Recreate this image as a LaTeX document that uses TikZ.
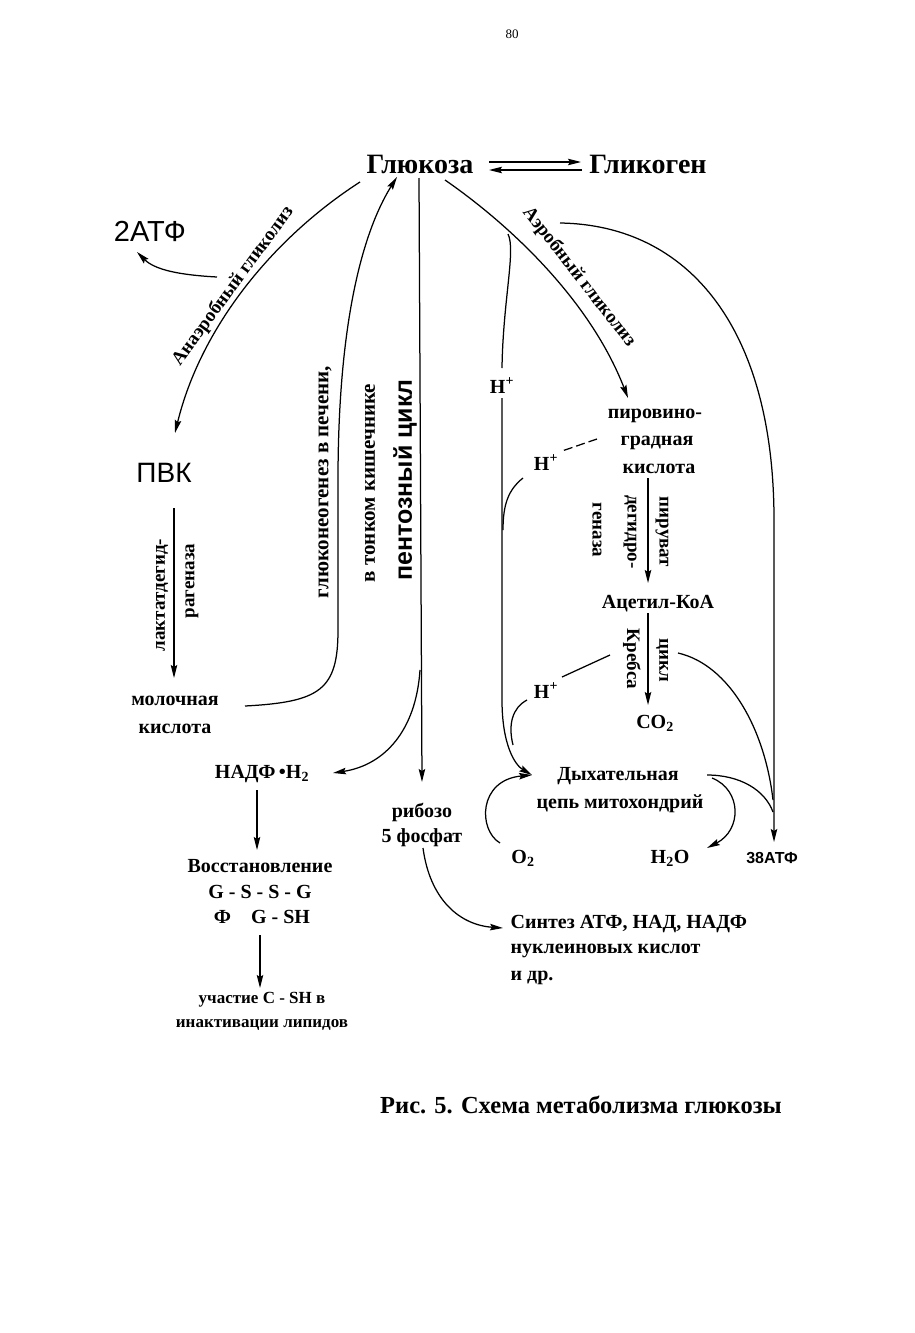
\documentclass[tikz,border=0pt]{standalone}
\usepackage{fontspec}
\setmainfont{Liberation Serif}
\setsansfont{Liberation Sans}
\usetikzlibrary{arrows.meta}
\begin{document}
\begin{tikzpicture}[x=1pt,y=-1pt,line width=1.25pt,
  every node/.style={inner sep=0pt},
  arr/.style={-{Stealth[length=13pt,width=6.5pt,inset=2pt]}},
  big/.style={font=\fontsize{28}{30}\selectfont\bfseries, anchor=base},
  lab/.style={font=\fontsize{20}{22}\selectfont\bfseries, anchor=base},
  sml/.style={font=\fontsize{17}{19}\selectfont\bfseries, anchor=base},
  rot/.style={font=\fontsize{19}{21}\selectfont\bfseries},
  rotb/.style={font=\fontsize{21}{23}\selectfont\bfseries},
  hand/.style={font=\fontsize{28}{30}\selectfont\sffamily, anchor=base},
]
\useasboundingbox (0,0) rectangle (914,1333);
\fill[white] (0,0) rectangle (914,1333);

% ---------- texts ----------
\node[font=\fontsize{13}{15}\selectfont, anchor=base] (pg) at (512,38) {80};
\node[big] (glu) at (420,173) {Глюкоза};
\node[big] (gly) at (648,173) {Гликоген};
\node[hand, font=\fontsize{29}{31}\selectfont\sffamily] (atp2) at (150,241) {2АТФ};
\node[hand] (pvk) at (164,482) {ПВК};
\node[lab] (mol1) at (175,705) {молочная};
\node[lab] (mol2) at (175,733) {кислота};
\node[rot, rotate=90] (ldh1) at (162,595) {лактатдегид-};
\node[rot, rotate=90] (ldh2) at (192,581) {рагеназа};
\node[rotb, rotate=90] (gng1) at (325,482) {глюконеогенез в печени,};
\node[rotb, rotate=90] (gng2) at (370,483) {в тонком кишечнике};
\node[rotate=90, font=\fontsize{25}{27}\selectfont\sffamily\bfseries] (pent) at (405,480) {пентозный цикл};
\node[rot, rotate=53.7] (anlab) at (233,286) {Анаэробный гликолиз};
\node[rot, rotate=-52] (aelab) at (579,277) {Аэробный гликолиз};

\node[lab] (pv1) at (655,418) {пировино-};
\node[lab] (pv2) at (657,445) {градная};
\node[lab] (pv3) at (659,473) {кислота};
\node[rot, rotate=-90] (pdh1) at (662,532) {пируват};
\node[rot, rotate=-90] (pdh2) at (630,532) {дегидро-};
\node[rot, rotate=-90] (pdh3) at (597,530) {геназа};
\node[lab] (acoa) at (658,608) {Ацетил-КоА};
\node[rot, rotate=-90] (kr1) at (662,660) {цикл};
\node[rot, rotate=-90] (kr2) at (632,659) {Кребса};
\node[lab] (co2) at (655,728) {CO\textsubscript{2}};
\node[lab] (h1) at (502,393) {Н\textsuperscript{+}};
\node[lab] (h2) at (546,470) {Н\textsuperscript{+}};
\node[lab] (h3) at (546,698) {Н\textsuperscript{+}};
\node[lab] (dc1) at (618,780) {Дыхательная};
\node[lab] (dc2) at (620,808) {цепь митохондрий};
\node[lab] (o2) at (523,863) {O\textsubscript{2}};
\node[lab] (h2o) at (670,863) {Н\textsubscript{2}O};
\node[font=\fontsize{16}{18}\selectfont\sffamily\bfseries, anchor=base] (atp38) at (772,863) {38АТФ};
\node[lab, anchor=base west] (syn1) at (510,928) {Синтез АТФ, НАД, НАДФ};
\node[lab, anchor=base west] (syn2) at (510,953) {нуклеиновых кислот};
\node[lab, anchor=base west] (syn3) at (510,980) {и др.};
\node[lab] (rib1) at (422,817) {рибозо};
\node[lab] (rib2) at (422,842) {5 фосфат};
\node[lab] (nadph) at (262,778) {НАДФ\,•Н\textsubscript{2}};
\node[lab] (vos) at (260,872) {Восстановление};
\node[lab] (gssg) at (260,898) {G - S - S - G};
\node[lab] (gsh) at (262,923) {Ф\quad G - SH};
\node[sml] (uch1) at (262,1003) {участие С - SH в};
\node[sml] (uch2) at (262,1027) {инактивации липидов};
\node[font=\fontsize{24.5}{27}\selectfont\bfseries, anchor=base] (cap) at (581,1113) {Рис. 5. Схема метаболизма глюкозы};

% ---------- connector end points ----------
\coordinate (gA) at (489,162); \coordinate (gB) at (581,162);
\coordinate (gC) at (582,170); \coordinate (gD) at (489,170);
\coordinate (anS) at (360,182); \coordinate (anE) at (175,433);
\coordinate (atS) at (217,277); \coordinate (atE) at (137,252);
\coordinate (ldS) at (174,508); \coordinate (ldE) at (174,678);
\coordinate (gnS) at (245,706); \coordinate (gnE) at (397,177);
\coordinate (peS) at (419,178); \coordinate (peE) at (422,782);
\coordinate (naS) at (420,670); \coordinate (naE) at (333,773);
\coordinate (n1S) at (257,790); \coordinate (n1E) at (257,850);
\coordinate (n2S) at (260,935); \coordinate (n2E) at (260,988);
\coordinate (riS) at (423,848); \coordinate (riE) at (503,928);
\coordinate (aeS) at (445,180); \coordinate (aeE) at (628,398);
\coordinate (hbS) at (508,234); \coordinate (hbE) at (502,368);
\coordinate (hlS) at (502,398); \coordinate (resp) at (532,775);
\coordinate (d2S) at (597,439); \coordinate (d2E) at (562,451);
\coordinate (c2S) at (523,478); \coordinate (c2E) at (503,530);
\coordinate (l3S) at (610,655); \coordinate (l3E) at (562,677);
\coordinate (c3S) at (527,700); \coordinate (c3E) at (513,745);
\coordinate (pyS) at (648,478); \coordinate (pyE) at (648,583);
\coordinate (acS) at (648,613); \coordinate (acE) at (648,705);
\coordinate (bgS) at (560,223); \coordinate (atpE) at (774,842);
\coordinate (krS) at (678,653); \coordinate (krE) at (773,800);
\coordinate (rsS) at (707,775); \coordinate (rsE) at (773,812);
\coordinate (hwS) at (712,778); \coordinate (hwE) at (707,848);
\coordinate (oxS) at (500,843);

% ---------- connectors ----------
\draw[arr] (gA) -- (gB);
\draw[arr] (gC) -- (gD);
\draw[arr] (anS) .. controls (270,240) and (200,330) .. (anE);
\draw[arr] (atS) .. controls (180,275) and (155,270) .. (atE);
\draw[arr] (ldS) -- (ldE);
\draw[arr] (gnS) .. controls (320,702) and (338,690) .. (338,630) -- (338,480) .. controls (338,300) and (370,220) .. (gnE);
\draw[arr] (peS) -- (peE);
\draw[arr] (naS) .. controls (416,730) and (385,765) .. (naE);
\draw[arr] (n1S) -- (n1E);
\draw[arr] (n2S) -- (n2E);
\draw[arr] (riS) .. controls (430,900) and (460,925) .. (riE);
\draw[arr] (aeS) .. controls (510,225) and (590,300) .. (aeE);
\draw (hbS) .. controls (516,250) and (503,300) .. (hbE);
\draw[arr] (hlS) -- (502,700) .. controls (502,745) and (515,765) .. (resp);
\draw[dashed, dash pattern=on 9pt off 4pt] (d2S) -- (d2E);
\draw (c2S) .. controls (508,490) and (503,505) .. (c2E);
\draw (l3S) -- (l3E);
\draw (c3S) .. controls (512,708) and (508,725) .. (c3E);
\draw[arr] (pyS) -- (pyE);
\draw[arr] (acS) -- (acE);
\draw[arr] (bgS) .. controls (690,225) and (774,330) .. (774,520) -- (atpE);
\draw (krS) .. controls (730,665) and (765,730) .. (krE);
\draw (rsS) .. controls (740,775) and (765,790) .. (rsE);
\draw[arr] (hwS) .. controls (742,790) and (742,830) .. (hwE);
\draw[arr] (oxS) .. controls (478,830) and (478,780) .. (resp);
\end{tikzpicture}
\end{document}
